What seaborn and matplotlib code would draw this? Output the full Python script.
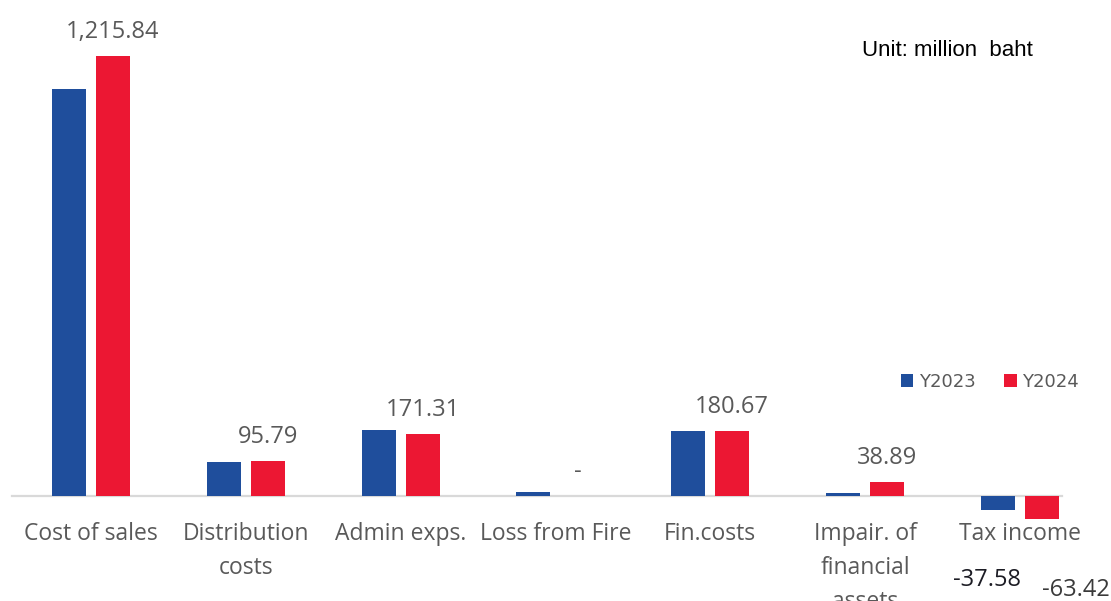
import matplotlib
matplotlib.use("Agg")
import matplotlib.pyplot as plt
import seaborn as sns
import pandas as pd

# ---- data ----
categories = ["Cost of sales", "Distribution\ncosts", "Admin exps.", "Loss from Fire",
              "Fin.costs", "Impair. of\nfinancial\nassets", "Tax income"]
years = ["Y2023", "Y2024"]
y2023 = [1125.0, 95.0, 182.0, 11.0, 180.0, 7.0, -37.58]
y2024 = [1215.84, 95.79, 171.31, 0.0, 180.67, 38.89, -63.42]
y2024_labels = ["1,215.84", "95.79", "171.31", "-", "180.67", "38.89"]
tax_labels = ["-37.58", "-63.42"]
unit_text = "Unit: million  baht"

BLUE = "#1f4e9c"
RED = "#ec1733"
GRAY = "#595959"

df = pd.DataFrame({
    "category": categories * 2,
    "value": y2023 + y2024,
    "year": [years[0]] * len(categories) + [years[1]] * len(categories),
})

sns.set_style("white")
plt.rcParams["font.family"] = ["Open Sans", "DejaVu Sans"]

W, H = 1111, 601
fig = plt.figure(figsize=(W / 100, H / 100), dpi=100)
ax = fig.add_axes([12 / W, 0, 1050 / W, 1])

sns.barplot(data=df, x="category", y="value", hue="year", palette=[BLUE, RED],
            width=0.5685, gap=0.227, saturation=1, linewidth=0, ax=ax, legend=True)

ax.set_xlim(-0.510, 6.273)
ax.set_ylim(-290, 1370)
ax.set_xlabel("")
ax.set_ylabel("")
ax.set_yticks([])
for s in ["top", "right", "left"]:
    ax.spines[s].set_visible(False)
ax.spines["bottom"].set_position(("data", 0))
ax.spines["bottom"].set_color("#d9d9d9")
ax.spines["bottom"].set_linewidth(1.6)
ax.spines["bottom"].set_zorder(0)
ax.tick_params(axis="x", length=0, pad=18.5, labelsize=16.5, labelcolor=GRAY)
for t in ax.get_xticklabels():
    t.set_linespacing(1.55)

# data labels for Y2024
red_bars = ax.containers[1].patches
blue_bars = ax.containers[0].patches
for bar, lab in zip(red_bars[:6], y2024_labels):
    cx = bar.get_x() + bar.get_width() / 2
    ax.annotate(lab, xy=(cx, bar.get_height()), xytext=(0, 13),
                textcoords="offset points", ha="center", va="baseline",
                fontsize=17, color=GRAY)

# tax income labels
bb = blue_bars[6]
ax.annotate(tax_labels[0], xy=(bb.get_x() + bb.get_width() / 2, bb.get_height()),
            xytext=(-8, -54.7), textcoords="offset points", ha="center",
            va="baseline", fontsize=17, color="#1c1c24",
            annotation_clip=False)
rb = red_bars[6]
ax.annotate(tax_labels[1], xy=(rb.get_x() + rb.get_width() / 2, rb.get_height()),
            xytext=(24.5, -55.4), textcoords="offset points", ha="center",
            va="baseline", fontsize=17, color="#3a3a3a", annotation_clip=False)

# legend
handles, labels = ax.get_legend_handles_labels()
ax.legend(handles, labels, loc="center", bbox_to_anchor=(990 / W, 1 - 382 / H),
          bbox_transform=fig.transFigure, ncol=2, frameon=False,
          handlelength=0.7, handleheight=0.7, handletextpad=0.3,
          columnspacing=1.6, prop={"family": "DejaVu Sans", "size": 13},
          labelcolor=GRAY)

# unit text
fig.text(862 / W, 1 - 56 / H, unit_text, ha="left", va="baseline",
         fontsize=16, color="black", family="Liberation Sans")

fig.savefig("out.png", dpi=100)
